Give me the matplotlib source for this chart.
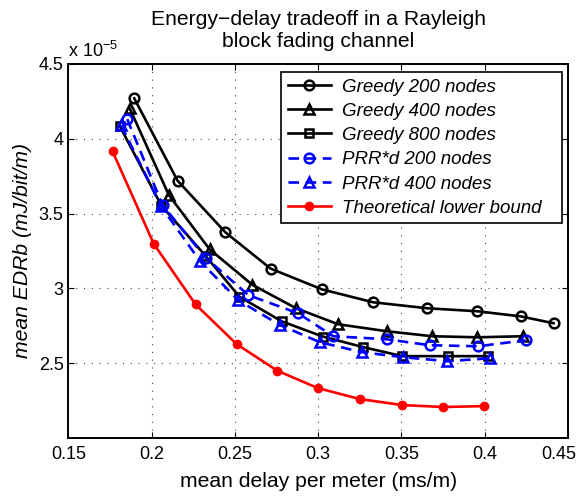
import matplotlib
matplotlib.use("Agg")
from matplotlib import pyplot as plt
from matplotlib import transforms

plt.rcParams['font.family'] = ['Liberation Sans', 'DejaVu Sans']

# values (y in units of 1e-5 mJ/bit/m)
greedy200_x = [0.1895, 0.2155, 0.2442, 0.2714, 0.3023, 0.3330, 0.3655, 0.3956, 0.4215, 0.4413]
greedy200_y = [4.270, 3.720, 3.375, 3.132, 2.993, 2.907, 2.867, 2.847, 2.813, 2.767]

greedy400_x = [0.1867, 0.2103, 0.2347, 0.2604, 0.2867, 0.3120, 0.3414, 0.3685, 0.3956, 0.4227]
greedy400_y = [4.205, 3.623, 3.262, 3.024, 2.867, 2.760, 2.713, 2.680, 2.673, 2.680]

greedy800_x = [0.1807, 0.2058, 0.2325, 0.2526, 0.2780, 0.3027, 0.3270, 0.3505, 0.3780, 0.4020]
greedy800_y = [4.087, 3.553, 3.215, 2.945, 2.780, 2.678, 2.607, 2.547, 2.547, 2.547]

prr200_x = [0.1853, 0.2065, 0.2325, 0.2580, 0.2880, 0.3090, 0.3410, 0.3670, 0.3960, 0.4245]
prr200_y = [4.131, 3.555, 3.204, 2.955, 2.833, 2.680, 2.660, 2.620, 2.613, 2.653]

prr400_x = [0.1817, 0.2055, 0.2290, 0.2520, 0.2770, 0.3010, 0.3265, 0.3510, 0.3776, 0.4034]
prr400_y = [4.090, 3.550, 3.182, 2.920, 2.755, 2.640, 2.573, 2.540, 2.513, 2.533]

bound_x = [0.1765, 0.2012, 0.2263, 0.2510, 0.2755, 0.2999, 0.3250, 0.3505, 0.3750, 0.3998]
bound_y = [3.915, 3.298, 2.893, 2.627, 2.449, 2.333, 2.260, 2.220, 2.207, 2.213]

x_ticks = [0.15, 0.2, 0.25, 0.3, 0.35, 0.4, 0.45]
x_ticklabels = ['0.15', '0.2', '0.25', '0.3', '0.35', '0.4', '0.45']
y_ticks = [2.5, 3, 3.5, 4, 4.5]
y_ticklabels = ['2.5', '3', '3.5', '4', '4.5']

fig = plt.figure(figsize=(5.79, 4.96), dpi=100)
ax = fig.add_axes([0.1183, 0.117, 0.8627, 0.754])

lw = 1.9
ax.plot(greedy200_x, greedy200_y, '-o', color='black', lw=lw, ms=7, mfc='none', mew=1.8,
        label='Greedy 200 nodes')
ax.plot(greedy400_x, greedy400_y, '-^', color='black', lw=lw, ms=7.5, mfc='none', mew=1.8,
        label='Greedy 400 nodes')
ax.plot(greedy800_x, greedy800_y, '-s', color='black', lw=lw, ms=6, mfc='none', mew=1.8,
        label='Greedy 800 nodes')
ax.plot(prr200_x, prr200_y, '--o', color='blue', lw=lw, ms=7, mfc='none', mew=1.8,
        dashes=(4, 2.5), label='PRR*d 200 nodes')
ax.plot(prr400_x, prr400_y, '--^', color='blue', lw=lw, ms=7.5, mfc='none', mew=1.8,
        dashes=(4, 2.5), label='PRR*d 400 nodes')
ax.plot(bound_x, bound_y, '-o', color='red', lw=lw, ms=6, mfc='red', mew=1,
        label='Theoretical lower bound')

ax.set_xlim(0.15, 0.45)
ax.set_ylim(2.0, 4.5)
ax.set_xticks(x_ticks)
ax.set_xticklabels(x_ticklabels)
ax.set_yticks(y_ticks)
ax.set_yticklabels(y_ticklabels)
ax.tick_params(direction='in', top=True, right=True, labelsize=13, length=4, width=0.8)
ax.tick_params(axis='x', pad=6)
ax.tick_params(axis='y', pad=3.5)
ax.grid(True, linestyle=(0, (1, 6)), color='#444444', linewidth=0.8)
for sp in ax.spines.values():
    sp.set_linewidth(1.4)

# last x label sits a little inside the figure, as in the original
shift = transforms.ScaledTranslation(-9 / 100, 0, fig.dpi_scale_trans)
last = ax.get_xticklabels()[-1]
last.set_transform(last.get_transform() + shift)

ax.set_xlabel('mean delay per meter (ms/m)', fontsize=15.2, labelpad=6)
ax.set_ylabel('mean EDRb (mJ/bit/m)', fontsize=15.2, style='italic', labelpad=5)
ax.set_title('Energy\u2212delay tradeoff in a Rayleigh\nblock fading channel', fontsize=15.2,
             linespacing=1.2, pad=12)
ax.text(0.0, 1.008, 'x 10$^{\\mathregular{-5}}$', transform=ax.transAxes, fontsize=13,
        ha='left', va='bottom')

leg = ax.legend(loc='upper right', bbox_to_anchor=(0.4254, 0.5, 0.5626, 0.479), mode='expand',
                borderaxespad=0, fontsize=13.5, handlelength=2.3, borderpad=0.35,
                labelspacing=0.38, handletextpad=0.6, fancybox=False, framealpha=1,
                edgecolor='black')
leg.get_frame().set_linewidth(1.2)
for t in leg.get_texts():
    t.set_style('italic')

fig.savefig('out.png', dpi=100)
